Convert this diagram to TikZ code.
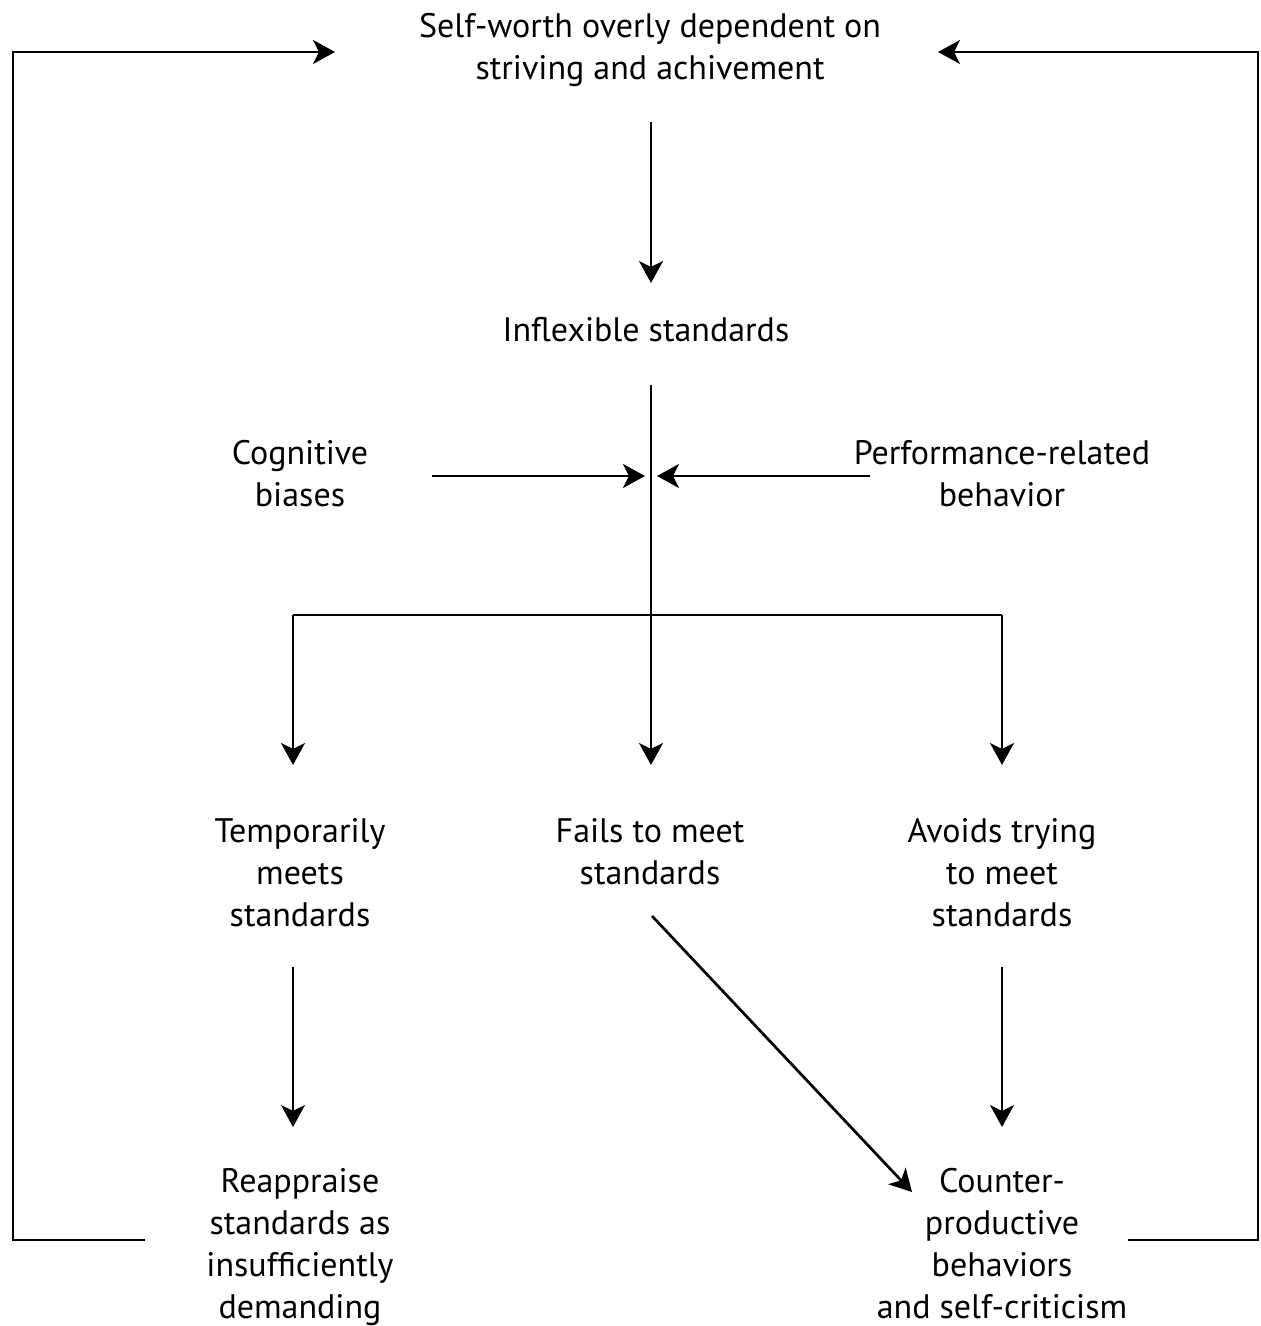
\documentclass[tikz,border=0pt]{standalone}
\usepackage{fontspec}
\setmainfont{PT Sans}
\usetikzlibrary{arrows.meta}
\begin{document}
\begin{tikzpicture}[x=0.5pt,y=-0.5pt,
  lbl/.style={align=center,font=\fontsize{17}{21}\selectfont,inner sep=0pt},
  conn/.style={line width=1.35pt,-{Stealth[length=11pt,width=12pt,inset=3pt]}},
  plain/.style={line width=1.35pt}]
\useasboundingbox (0,0) rectangle (1260,1326);
% text nodes
\node[lbl] (top) at (650,50) {Self-worth overly dependent on\\striving and achivement};
\node[lbl] (infl) at (646,330) {Inflexible standards};
\node[lbl] (cog) at (300,474) {Cognitive\\biases};
\node[lbl] (perf) at (1002,474) {Performance-related\\behavior};
\node[lbl] (temp) at (300,873) {Temporarily\\meets\\standards};
\node[lbl] (fail) at (650,852) {Fails to meet\\standards};
\node[lbl] (avoid) at (1002,873) {Avoids trying\\to meet\\standards};
\node[lbl] (reap) at (300,1247) {Reappraise\\standards as\\insufficiently\\demanding};
\node[lbl] (count) at (1002,1244) {Counter-\\productive\\behaviors\\and self-criticism};
% connector end points
\coordinate (topS) at (651,122);
\coordinate (inflN) at (651,283);
\coordinate (inflS) at (651,385);
\coordinate (merge) at (651,476);
\coordinate (cogE) at (432,476);
\coordinate (cogT) at (645,476);
\coordinate (perfW) at (870,476);
\coordinate (perfT) at (657,476);
\coordinate (split) at (651,615);
\coordinate (splitL) at (293,615);
\coordinate (splitR) at (1002,615);
\coordinate (tempN) at (293,765);
\coordinate (failN) at (651,765);
\coordinate (avoidN) at (1002,765);
\coordinate (tempS) at (293,967);
\coordinate (reapN) at (293,1127);
\coordinate (avoidS) at (1002,967);
\coordinate (countN) at (1002,1127);
\coordinate (failS) at (652,916);
\coordinate (countW) at (912,1192);
\coordinate (reapW) at (145,1240);
\coordinate (countE) at (1128,1240);
\coordinate (topW) at (335,52);
\coordinate (topE) at (938,52);
% connectors
\draw[conn] (topS) -- (inflN);
\draw[conn] (inflS) -- (failN);
\draw[conn] (cogE) -- (cogT);
\draw[conn] (perfW) -- (perfT);
\draw[plain] (splitL) -- (splitR);
\draw[conn] (splitL) -- (tempN);
\draw[conn] (splitR) -- (avoidN);
\draw[conn] (tempS) -- (reapN);
\draw[conn] (avoidS) -- (countN);
\draw[conn] (failS) -- (countW);
\draw[conn] (reapW) -| (13,52) -- (topW);
\draw[conn] (countE) -| (1258,52) -- (topE);
\end{tikzpicture}
\end{document}
